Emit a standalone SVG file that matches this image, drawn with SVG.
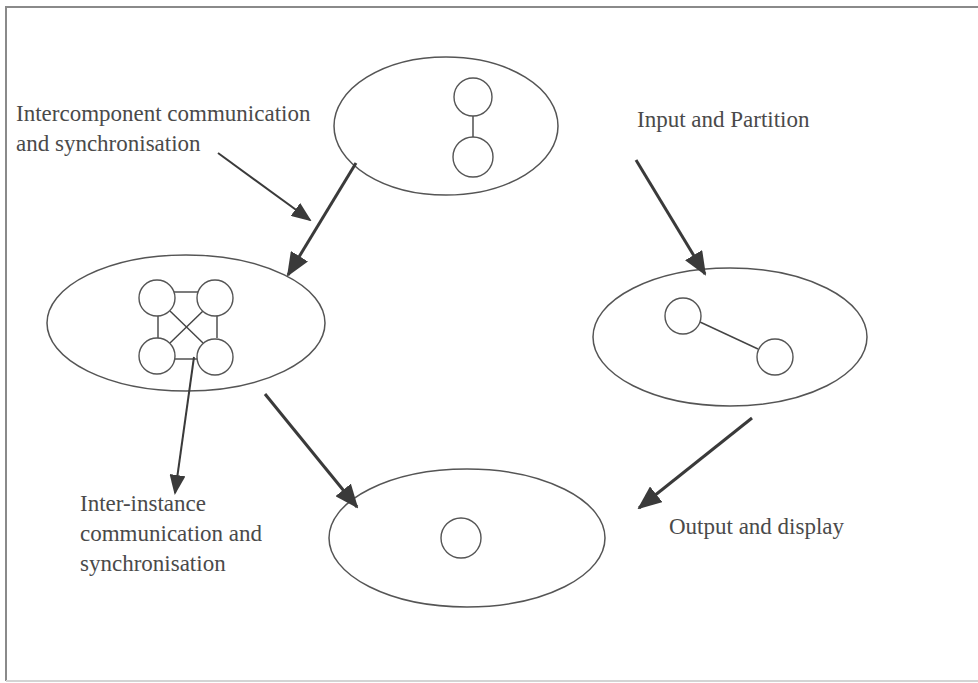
<svg xmlns="http://www.w3.org/2000/svg" width="978" height="683" viewBox="0 0 978 683">
  <defs>
    <style>
      .frame { fill: none; stroke: #8a8a8a; stroke-width: 2; }
      .frame-low { fill: none; stroke: #d4d4d4; stroke-width: 2; }
      .outer { fill: none; stroke: #555; stroke-width: 1.5; }
      .inner { fill: #fff; stroke: #555; stroke-width: 1.4; }
      .link { stroke: #444; stroke-width: 1.4; fill: none; }
      .flow { stroke: #3a3a3a; stroke-width: 3; fill: none; marker-end: url(#headBig); }
      .note { stroke: #3a3a3a; stroke-width: 2; fill: none; marker-end: url(#headSmall); }
      .label { font-family: "Liberation Serif", "Times New Roman", serif; font-size: 23px; fill: #4a4a4a; }
    </style>
    <marker id="headBig" markerUnits="userSpaceOnUse" viewBox="0 0 24 20" markerWidth="24" markerHeight="20" refX="22" refY="10" orient="auto">
      <path d="M0,0 L24,10 L0,20 z" fill="#3a3a3a"/>
    </marker>
    <marker id="headSmall" markerUnits="userSpaceOnUse" viewBox="0 0 20 16" markerWidth="20" markerHeight="16" refX="18" refY="8" orient="auto">
      <path d="M0,0 L20,8 L0,16 z" fill="#3a3a3a"/>
    </marker>
  </defs>

  <rect width="978" height="683" fill="#fff"/>
  <!-- page frame -->
  <path class="frame" d="M978,7 L6,7 L6,681"/>
  <line class="frame-low" x1="6" y1="681" x2="978" y2="681"/>

  <!-- top stage: two linked components -->
  <g id="node-input">
    <ellipse class="outer" cx="446" cy="126" rx="112" ry="69"/>
    <line class="link" x1="473" y1="116" x2="473" y2="138"/>
    <circle class="inner" cx="473" cy="97" r="19"/>
    <circle class="inner" cx="473" cy="157" r="20"/>
  </g>

  <!-- left stage: four fully connected instances -->
  <g id="node-instances">
    <ellipse class="outer" cx="186" cy="323" rx="139" ry="68"/>
    <line class="link" x1="172" y1="292" x2="200" y2="292"/>
    <line class="link" x1="172" y1="359" x2="200" y2="359"/>
    <line class="link" x1="158" y1="316" x2="158" y2="338"/>
    <line class="link" x1="217" y1="316" x2="217" y2="338"/>
    <line class="link" x1="170" y1="311" x2="203" y2="343"/>
    <line class="link" x1="203" y1="311" x2="170" y2="343"/>
    <circle class="inner" cx="157" cy="298" r="18"/>
    <circle class="inner" cx="215" cy="298" r="18"/>
    <circle class="inner" cx="157" cy="356" r="18"/>
    <circle class="inner" cx="215" cy="357" r="18"/>
  </g>

  <!-- right stage: partitioned pair -->
  <g id="node-partition">
    <ellipse class="outer" cx="730" cy="337" rx="137" ry="69"/>
    <line class="link" x1="700" y1="322" x2="758" y2="349"/>
    <circle class="inner" cx="683" cy="316" r="18"/>
    <circle class="inner" cx="775" cy="357" r="18"/>
  </g>

  <!-- bottom stage: single output -->
  <g id="node-output">
    <ellipse class="outer" cx="467" cy="538" rx="138" ry="69"/>
    <circle class="inner" cx="461" cy="538" r="20"/>
  </g>

  <!-- connectors -->
  <g id="connectors">
    <line class="flow" x1="356" y1="163" x2="288" y2="275"/>
    <line class="flow" x1="636" y1="160" x2="705" y2="274"/>
    <line class="flow" x1="265" y1="394" x2="357" y2="507"/>
    <line class="flow" x1="752" y1="418" x2="639" y2="508"/>
    <line class="note" x1="218" y1="153" x2="310" y2="220"/>
    <line class="note" x1="194" y1="357" x2="175" y2="493"/>
  </g>

  <!-- labels -->
  <g id="labels">
    <text class="label" x="16" y="121">Intercomponent communication</text>
    <text class="label" x="16" y="151">and synchronisation</text>
    <text class="label" x="637" y="127">Input and Partition</text>
    <text class="label" x="80" y="511">Inter-instance</text>
    <text class="label" x="80" y="541">communication and</text>
    <text class="label" x="80" y="571">synchronisation</text>
    <text class="label" x="669" y="534">Output and display</text>
  </g>
</svg>
